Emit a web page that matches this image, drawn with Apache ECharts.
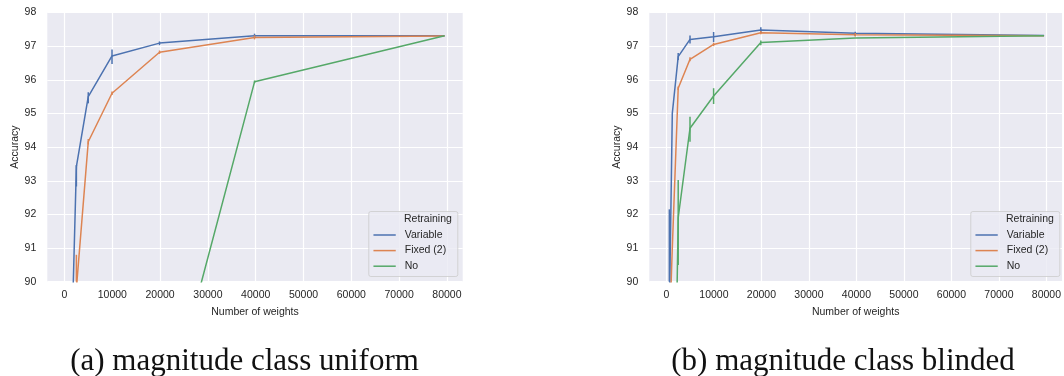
<!DOCTYPE html>
<html>
<head>
<meta charset="utf-8">
<script src="https://cdn.jsdelivr.net/npm/echarts@6/dist/echarts.min.js"></script>
<style>
  html, body { margin: 0; padding: 0; background: #ffffff; }
  #chart { width: 1064px; height: 376px; }
</style>
</head>
<body>
<div id="chart"></div>
<script>
// Network sizes (number of weights) at which each pruning run was evaluated
const weights = [621, 1242, 2484, 4969, 9938, 19877, 39755, 79510];
const xTickValues = [0, 10000, 20000, 30000, 40000, 50000, 60000, 70000, 80000];
const retrainingNames = ['Variable', 'Fixed (2)', 'No'];
const palette = ['#4c72b0', '#dd8452', '#55a868'];

// (a) magnitude class uniform: mean accuracy and confidence band ends
const uniformVariable = [null, 86.8, 93.42, 95.50, 96.71, 97.09, 97.31, 97.31];
const uniformVariableLow = [null, null, 92.83, 95.30, 96.47, 97.03, 97.25, null];
const uniformVariableHigh = [null, null, 93.47, 95.63, 96.90, 97.14, 97.37, null];
const uniformFixed = [null, null, 89.8, 94.16, 95.60, 96.82, 97.26, 97.30];
const uniformFixedLow = [null, null, 88.8, 94.08, 95.55, 96.77, 97.20, null];
const uniformFixedHigh = [null, null, 90.8, 94.24, 95.65, 96.87, 97.32, null];
const uniformNo = [null, null, null, null, null, 85.3, 95.94, 97.31];
const uniformNoLow = [null, null, null, null, null, null, 95.90, null];
const uniformNoHigh = [null, null, null, null, null, null, 95.98, null];

// (b) magnitude class blinded
const blindedVariable = [89.0, 95.0, 96.69, 97.20, 97.28, 97.48, 97.38, 97.32];
const blindedVariableLow = [86.0, null, 96.59, 97.08, 97.12, 97.40, 97.30, null];
const blindedVariableHigh = [92.15, null, 96.80, 97.32, 97.42, 97.56, 97.43, null];
const blindedFixed = [88.4, 91.0, 95.75, 96.61, 97.05, 97.40, 97.34, 97.31];
const blindedFixedLow = [null, null, 95.70, 96.55, 97.00, 97.35, 97.29, null];
const blindedFixedHigh = [null, null, 95.80, 96.67, 97.10, 97.45, 97.39, null];
const blindedNo = [null, 81.0, 91.9, 94.56, 95.52, 97.11, 97.24, 97.31];
const blindedNoLow = [null, null, 90.50, 94.16, 95.28, 97.03, null, null];
const blindedNoHigh = [null, null, 93.02, 94.90, 95.75, 97.17, null, null];

const captions = ['(a) magnitude class uniform', '(b) magnitude class blinded'];

const panels = [
  {
    means: [uniformVariable, uniformFixed, uniformNo],
    lows: [uniformVariableLow, uniformFixedLow, uniformNoLow],
    highs: [uniformVariableHigh, uniformFixedHigh, uniformNoHigh],
    left: 47.3, captionX: 244.5
  },
  {
    means: [blindedVariable, blindedFixed, blindedNo],
    lows: [blindedVariableLow, blindedFixedLow, blindedNoLow],
    highs: [blindedVariableHigh, blindedFixedHigh, blindedNoHigh],
    left: 649.3, captionX: 843
  }
];

const SANS = 'Liberation Sans, Arial, sans-serif';
const INK = '#262626';
const PLOT_W = 415.4, PLOT_TOP = 12.5, PLOT_H = 269.2;

const grids = [], xAxes = [], yAxes = [], series = [], legends = [], graphics = [];

panels.forEach((panel, p) => {
  grids.push({
    left: panel.left, top: PLOT_TOP, width: PLOT_W, height: PLOT_H,
    show: true, backgroundColor: '#eaeaf2', borderWidth: 0, containLabel: false
  });
  xAxes.push({
    type: 'value', gridIndex: p, min: -3600, max: 83300,
    name: 'Number of weights', nameLocation: 'middle', nameGap: 25,
    nameTextStyle: { fontFamily: SANS, fontSize: 10.5, color: INK },
    axisLine: { show: false },
    axisTick: { show: false, customValues: xTickValues },
    axisLabel: {
      customValues: xTickValues, formatter: v => String(v),
      fontFamily: SANS, fontSize: 10.5, color: INK, margin: 8
    },
    splitLine: { show: true, lineStyle: { color: '#ffffff', width: 1.2 } }
  });
  yAxes.push({
    type: 'value', gridIndex: p, min: 90, max: 98, interval: 1,
    name: 'Accuracy', nameLocation: 'middle', nameGap: 27,
    nameTextStyle: { fontFamily: SANS, fontSize: 10.5, color: INK },
    axisLine: { show: false }, axisTick: { show: false },
    axisLabel: { fontFamily: SANS, fontSize: 10.5, color: INK, margin: 11 },
    splitLine: { show: true, lineStyle: { color: '#ffffff', width: 1.2 } }
  });

  retrainingNames.forEach((name, k) => {
    series.push({
      type: 'line', name: name, xAxisIndex: p, yAxisIndex: p,
      data: weights.map((w, i) => [w, panel.means[k][i]]),
      symbol: 'none', connectNulls: false, clip: true,
      lineStyle: { color: palette[k], width: 1.5 },
      itemStyle: { color: palette[k] }, z: 3
    });
    const bars = [];
    weights.forEach((w, i) => {
      if (panel.lows[k][i] != null && panel.highs[k][i] != null) {
        bars.push([w, panel.lows[k][i], panel.highs[k][i]]);
      }
    });
    series.push({
      type: 'custom', name: name + ' CI', xAxisIndex: p, yAxisIndex: p,
      data: bars, encode: { x: 0, y: [1, 2] }, z: 4,
      renderItem: (params, api) => {
        const a = api.coord([api.value(0), api.value(1)]);
        const b = api.coord([api.value(0), api.value(2)]);
        const cs = params.coordSys;
        const clampY = y => Math.min(Math.max(y, cs.y), cs.y + cs.height);
        return {
          type: 'line',
          shape: { x1: a[0], y1: clampY(a[1]), x2: b[0], y2: clampY(b[1]) },
          style: { stroke: palette[k], lineWidth: 1.5 }
        };
      }
    });
  });

  const boxX = panel.left + 321;
  legends.push({
    data: retrainingNames, orient: 'vertical', left: boxX, top: 211,
    padding: [18.5, 10, 4.5, 4.4], itemWidth: 22.3, itemHeight: 11, itemGap: 4.6,
    backgroundColor: 'transparent', selectedMode: false, z: 6,
    // legend keys are plain line strokes, no marker dot
    itemStyle: { opacity: 0, color: 'rgba(0,0,0,0)', borderWidth: 0 },
    lineStyle: { width: 1.5 },
    textStyle: { fontFamily: SANS, fontSize: 10.5, color: INK, padding: [0, 0, 0, 4] }
  });
  graphics.push({
    type: 'rect', left: boxX, top: 211, z: 5,
    shape: { width: 89, height: 65, r: 2 },
    style: { fill: 'rgba(234,234,242,0.8)', stroke: 'rgba(204,204,204,0.8)', lineWidth: 1 }
  });
  graphics.push({
    type: 'text', x: boxX + 35.7, y: 219, z: 7,
    style: { text: 'Retraining', font: '10.5px ' + SANS, fill: INK, textVerticalAlign: 'middle' }
  });
  graphics.push({
    type: 'text', x: panel.captionX, y: 362, z: 7,
    style: {
      text: captions[p], font: '31px Liberation Serif, Times New Roman, serif', fill: '#111111',
      textAlign: 'center', textVerticalAlign: 'middle'
    }
  });
});

const chart = echarts.init(document.getElementById('chart'), null, { renderer: 'canvas' });
chart.setOption({
  animation: false,
  backgroundColor: '#ffffff',
  grid: grids, xAxis: xAxes, yAxis: yAxes,
  legend: legends, series: series, graphic: graphics
});
</script>
</body>
</html>
